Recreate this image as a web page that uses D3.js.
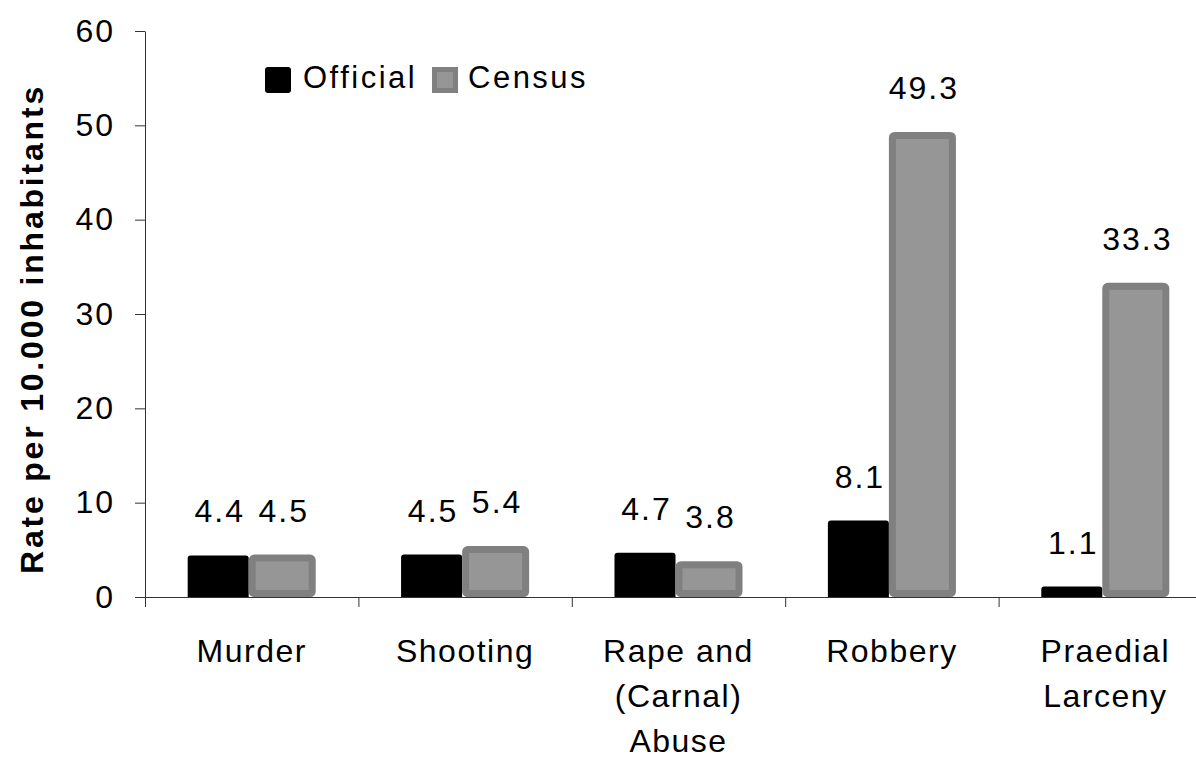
<!DOCTYPE html>
<html>
<head>
<meta charset="utf-8">
<script src="https://cdn.jsdelivr.net/npm/d3@7"></script>
<style>
    body { margin: 0; background: #fff; }
    svg { display: block; font-family: Arial, "Liberation Sans", sans-serif; }
</style>
</head>
<body>
<svg id="chart" width="1196" height="765"></svg>
<script>
var categories = [["Murder"], ["Shooting"], ["Rape and", "(Carnal)", "Abuse"], ["Robbery"], ["Praedial", "Larceny"]];
var seriesNames = ["Official", "Census"];
var officialValues = [4.4, 4.5, 4.7, 8.1, 1.1];
var censusValues = [4.5, 5.4, 3.8, 49.3, 33.3];
var yTicks = [0, 10, 20, 30, 40, 50, 60];

var svg = d3.select("#chart");
var plotLeft = 145, plotTop = 31, plotBottom = 597, step = 213.4;

var y = d3.scaleLinear().domain([0, 60]).range([plotBottom, plotTop]);
var x = d3.scaleBand()
    .domain(d3.range(categories.length))
    .range([plotLeft, plotLeft + step * categories.length])
    .paddingInner(0.4)
    .paddingOuter(0.2);
var x1 = d3.scaleBand().domain(seriesNames).range([0, x.bandwidth()]);
var edges = d3.scaleLinear().domain([0, categories.length]).range([plotLeft, plotLeft + step * categories.length]);

// rect with slightly rounded top corners
function roundedTop(x0, y0, w, h, r) {
    return "M" + x0 + "," + (y0 + h) +
        "V" + (y0 + r) +
        "Q" + x0 + "," + y0 + " " + (x0 + r) + "," + y0 +
        "H" + (x0 + w - r) +
        "Q" + (x0 + w) + "," + y0 + " " + (x0 + w) + "," + (y0 + r) +
        "V" + (y0 + h) + "Z";
}

var rows = categories.map(function(c, i) {
    return { i: i, official: officialValues[i], census: censusValues[i] };
});

// bars
var groups = svg.selectAll(".cat")
    .data(rows)
    .enter().append("g")
    .attr("class", "cat")
    .attr("transform", function(d) { return "translate(" + x(d.i) + ",0)"; });

groups.append("path")
    .attr("fill", "#000")
    .attr("d", function(d) {
        return roundedTop(x1("Official"), y(d.official), x1.bandwidth() - 3, plotBottom - y(d.official), 3);
    });

groups.append("rect")
    .attr("x", x1("Census") + 0.5)
    .attr("y", function(d) { return y(d.census) + 3.5; })
    .attr("width", x1.bandwidth() - 4)
    .attr("height", function(d) { return Math.max(0, plotBottom - y(d.census) - 7); })
    .attr("rx", 2)
    .attr("fill", "#969696")
    .attr("stroke", "#808080")
    .attr("stroke-width", 7);

// value labels
groups.append("text")
    .attr("x", x1("Official") + x1.bandwidth() / 2)
    .attr("y", function(d) { return y(d.official) - 33; })
    .attr("text-anchor", "middle")
    .style("font-size", "32px")
    .style("letter-spacing", "2px")
    .text(function(d) { return d3.format(".1f")(d.official); });

groups.append("text")
    .attr("x", x1("Census") + x1.bandwidth() / 2)
    .attr("y", function(d) { return y(d.census) - 33; })
    .attr("text-anchor", "middle")
    .style("font-size", "32px")
    .style("letter-spacing", "2px")
    .text(function(d) { return d3.format(".1f")(d.census); });

// y axis
var yAxis = svg.append("g")
    .attr("transform", "translate(" + plotLeft + ",0)")
    .call(d3.axisLeft(y).tickValues(yTicks).tickSize(10).tickSizeOuter(0).tickPadding(20));
yAxis.select(".domain").attr("stroke", "#333");
yAxis.selectAll(".tick line").attr("stroke", "#333");
yAxis.selectAll(".tick text")
    .attr("fill", "#000")
    .style("font-size", "32px")
    .style("letter-spacing", "2px")
    .style("font-family", "Arial, 'Liberation Sans', sans-serif");

// x axis with tick marks at category boundaries
var xAxis = svg.append("g")
    .attr("transform", "translate(0," + plotBottom + ")")
    .call(d3.axisBottom(edges).tickValues(d3.range(categories.length + 1)).tickSize(10).tickSizeOuter(0).tickFormat(""));
xAxis.select(".domain").attr("stroke", "#333");
xAxis.selectAll(".tick line").attr("stroke", "#333");

// category labels
var catLabels = svg.selectAll(".catlabel")
    .data(rows)
    .enter().append("text")
    .attr("class", "catlabel")
    .attr("text-anchor", "middle")
    .style("font-size", "32px")
    .style("letter-spacing", "1.5px")
    .attr("transform", function(d) { return "translate(" + (x(d.i) + x.bandwidth() / 2) + ",662)"; });

catLabels.selectAll("tspan")
    .data(function(d) { return categories[d.i]; })
    .enter().append("tspan")
    .attr("x", 0)
    .attr("y", function(t, j) { return j * 45; })
    .text(function(t) { return t; });

// y axis title
svg.append("text")
    .attr("transform", "translate(43,329) rotate(-90)")
    .attr("text-anchor", "middle")
    .style("font-size", "32px")
    .style("font-weight", "bold")
    .style("letter-spacing", "2.8px")
    .text("Rate per 10.000 inhabitants");

// legend
var legend = svg.append("g");
legend.append("rect")
    .attr("x", 265).attr("y", 67)
    .attr("width", 26).attr("height", 26)
    .attr("rx", 3)
    .attr("fill", "#000");
legend.append("text")
    .attr("x", 303).attr("y", 88)
    .style("font-size", "31px")
    .style("letter-spacing", "2.5px")
    .text(seriesNames[0]);
legend.append("rect")
    .attr("x", 434.5).attr("y", 69.5)
    .attr("width", 21).attr("height", 21)
    .attr("fill", "#969696")
    .attr("stroke", "#808080")
    .attr("stroke-width", 5);
legend.append("text")
    .attr("x", 468).attr("y", 88)
    .style("font-size", "31px")
    .style("letter-spacing", "2.5px")
    .text(seriesNames[1]);
</script>
</body>
</html>
